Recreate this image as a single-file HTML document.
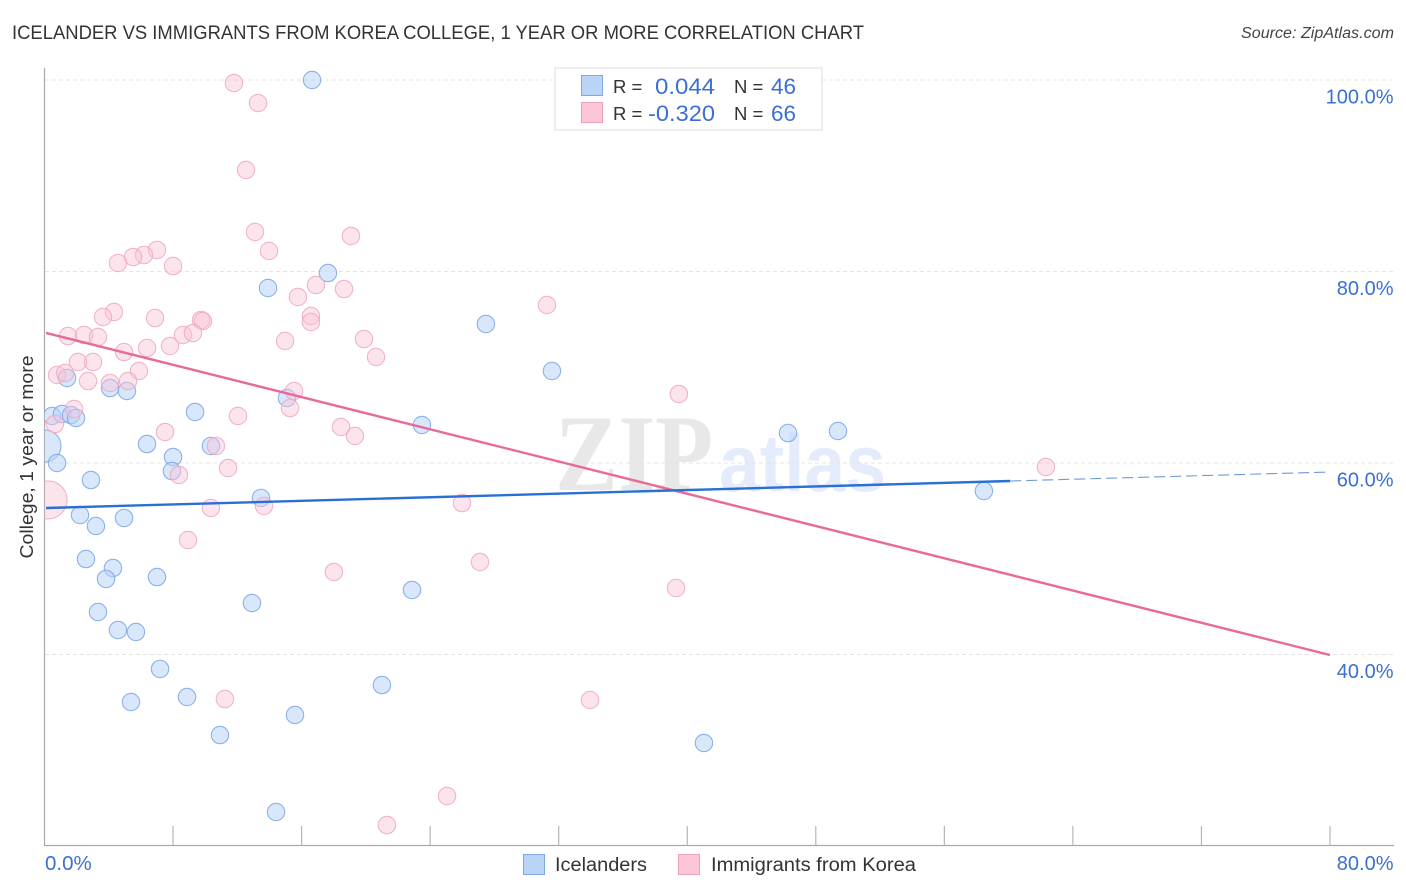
<!DOCTYPE html>
<html lang="en">
<head>
<meta charset="utf-8">
<title>Icelander vs Immigrants from Korea College Correlation Chart</title>
<style>
html,body{margin:0;padding:0;background:#fff;}
body{width:1406px;height:892px;overflow:hidden;}
svg{display:block;font-family:"Liberation Sans",sans-serif;}
</style>
</head>
<body>
<svg id="chart" xmlns="http://www.w3.org/2000/svg" width="1406" height="892" viewBox="0 0 1406 892">
  <defs>
    <clipPath id="plot-clip"><rect x="44.5" y="60" width="1350" height="785"/></clipPath>
  </defs>
  <rect x="0" y="0" width="1406" height="892" fill="#ffffff"/>
  <text x="12" y="39" font-size="19" fill="#333333" textLength="852" lengthAdjust="spacingAndGlyphs">ICELANDER VS IMMIGRANTS FROM KOREA COLLEGE, 1 YEAR OR MORE CORRELATION CHART</text>
  <text x="1241" y="38" font-size="15.5" font-style="italic" fill="#444444" textLength="153" lengthAdjust="spacingAndGlyphs">Source: ZipAtlas.com</text>

  <g>
    <text x="555" y="490" font-family="'Liberation Serif',serif" font-weight="bold" font-size="109" fill="#e8e8e8" textLength="158" lengthAdjust="spacingAndGlyphs">ZIP</text>
    <text x="719" y="491" font-size="81" font-weight="bold" fill="#e4ebfa" textLength="167" lengthAdjust="spacingAndGlyphs">atlas</text>
  </g>

  <g id="grid"></g>
  <g id="axes"></g>
  <g id="pts-blue" clip-path="url(#plot-clip)"></g>
  <g id="pts-pink" clip-path="url(#plot-clip)"></g>
  <g id="trends"></g>
  <g id="ticklabels"></g>

  <text transform="translate(33,457) rotate(-90)" font-size="18.5" fill="#333333" text-anchor="middle" textLength="203" lengthAdjust="spacingAndGlyphs">College, 1 year or more</text>

  <g>
    <rect x="555" y="68" width="267" height="62" fill="#ffffff" fill-opacity="0.9" stroke="#dddddd" stroke-width="1"/>
    <rect x="581.5" y="75.5" width="21" height="20" fill="#b9d4f7" stroke="#7fa9e6"/>
    <rect x="581.5" y="102.5" width="21" height="20" fill="#fcc6d8" stroke="#f0a0bb"/>
    <text x="613" y="93" font-size="18.5" fill="#333333">R =</text>
    <text x="715" y="94" font-size="22" fill="#3b6fd4" text-anchor="end" textLength="60" lengthAdjust="spacingAndGlyphs">0.044</text>
    <text x="734" y="93" font-size="18.5" fill="#333333">N =</text>
    <text x="771" y="94" font-size="22" fill="#3b6fd4" textLength="25" lengthAdjust="spacingAndGlyphs">46</text>
    <text x="613" y="120" font-size="18.5" fill="#333333">R =</text>
    <text x="715" y="121" font-size="22" fill="#3b6fd4" text-anchor="end" textLength="67" lengthAdjust="spacingAndGlyphs">-0.320</text>
    <text x="734" y="120" font-size="18.5" fill="#333333">N =</text>
    <text x="771" y="121" font-size="22" fill="#3b6fd4" textLength="25" lengthAdjust="spacingAndGlyphs">66</text>
  </g>

  <g>
    <rect x="523.5" y="854.5" width="21" height="20" fill="#b9d4f7" stroke="#7fa9e6"/>
    <text x="555" y="871" font-size="19" fill="#333333" textLength="92" lengthAdjust="spacingAndGlyphs">Icelanders</text>
    <rect x="678.5" y="854.5" width="21" height="20" fill="#fcc6d8" stroke="#f0a0bb"/>
    <text x="711" y="871" font-size="19" fill="#333333" textLength="205" lengthAdjust="spacingAndGlyphs">Immigrants from Korea</text>
  </g>
</svg>
<script>
// ---- Chart data (percent units) ----
const xTickValues = [0, 8, 16, 24, 32, 40, 48, 56, 64, 72, 80];
const yGridValues = [100, 80, 60, 40];
const yTickLabels = ['100.0%', '80.0%', '60.0%', '40.0%'];
const xStartLabel = '0.0%';
const xEndLabel = '80.0%';

const icelanderX = [16.65,17.64,13.91,27.47,31.58,1.40,4.08,5.13,9.37,0.47,1.09,1.65,1.96,23.49,46.27,49.38,6.38,10.36,0.03,0.78,8.00,7.93,2.89,13.47,58.46,2.21,4.95,3.20,2.58,4.26,3.83,7.00,22.87,12.91,3.33,4.57,5.69,7.19,21.00,8.87,5.38,15.59,10.92,41.04,14.41,15.09];
const icelanderY = [100,79.84,78.28,74.52,69.61,68.88,67.83,67.52,65.33,64.91,65.12,65.01,64.70,63.97,63.13,63.34,61.98,61.78,61.78,60.00,60.63,59.16,58.22,56.35,57.08,54.57,54.26,53.42,49.97,49.03,47.89,48.09,46.74,45.38,44.44,42.56,42.35,38.49,36.81,35.56,35.04,33.68,31.59,30.76,23.55,66.79];

const koreaX = [11.79,13.29,12.54,13.10,19.07,13.97,7.00,6.19,5.51,4.57,8.00,16.89,18.64,15.77,31.27,4.32,3.64,6.88,9.74,9.86,16.58,16.58,8.62,9.24,1.46,2.46,3.33,14.97,19.88,6.38,7.81,4.95,20.63,3.02,2.08,5.88,0.78,1.28,2.71,4.08,5.20,39.48,15.53,15.28,12.04,1.84,0.65,18.45,19.32,7.50,10.67,11.42,8.37,62.32,0.22,13.66,10.36,25.98,8.93,27.10,18.01,39.30,11.23,33.95,25.05,21.31];
const koreaY = [99.69,97.60,90.60,84.13,83.71,82.14,82.25,81.72,81.51,80.89,80.57,78.59,78.17,77.34,76.50,75.77,75.25,75.14,74.93,74.83,75.35,74.73,73.37,73.58,73.26,73.37,73.16,72.74,72.95,72.01,72.22,71.59,71.07,70.55,70.55,69.61,69.19,69.40,68.56,68.36,68.56,67.21,67.52,65.74,64.91,65.64,64.07,63.76,62.82,63.24,61.78,59.48,58.75,59.58,56.14,55.51,55.30,55.82,51.96,49.66,48.62,46.95,35.35,35.25,25.22,22.19];

const icelanderTrendX = [0.1, 60.1];
const icelanderTrendY = [55.30, 58.12];
const icelanderProjectionX = [60.1, 80];
const icelanderProjectionY = [58.12, 59.06];
const koreaTrendX = [0.1, 80];
const koreaTrendY = [73.58, 39.95];

// ---- Axis functions ----
const SVGNS = 'http://www.w3.org/2000/svg';
function xScale(v) { return 44.5 + v * (1330 - 44.5) / 80; }
function yScale(v) { return 80 + (100 - v) * 9.575; }
function mk(tag, attrs, parent) {
  const el = document.createElementNS(SVGNS, tag);
  for (const k in attrs) el.setAttribute(k, attrs[k]);
  parent.appendChild(el);
  return el;
}

// Gridlines
const gridG = document.getElementById('grid');
yGridValues.forEach(function (v) {
  const line = mk('line', {x1: 45, x2: 1394, y1: yScale(v), y2: yScale(v), stroke: '#e4e4e4', 'stroke-width': 1, 'stroke-dasharray': '4 3'}, gridG);
  
  
});

// Axes and ticks
const axesG = document.getElementById('axes');
const yAxisLine = mk('line', {x1: 44.5, x2: 44.5, y1: 68, y2: 846, stroke: '#aaaaaa', 'stroke-width': 1.2}, axesG);


const xAxisLine = mk('line', {x1: 44, x2: 1394, y1: 845.5, y2: 845.5, stroke: '#aaaaaa', 'stroke-width': 1.2}, axesG);


xTickValues.slice(1).forEach(function (v) {
  const tick = mk('line', {x1: xScale(v), x2: xScale(v), y1: 826, y2: 845, stroke: '#b5b5b5', 'stroke-width': 1.2}, axesG);
  
  
});

// Tick labels
const labelG = document.getElementById('ticklabels');
const TICK_COLOR = '#3b6fd4';
yGridValues.forEach(function (v, i) {
  const t = mk('text', {x: 1393.5, y: yScale(v) + 23.5, 'font-size': 20, fill: TICK_COLOR, 'text-anchor': 'end'}, labelG);
  
  
  t.textContent = yTickLabels[i];
});
const xStart = mk('text', {x: 45, y: 870, 'font-size': 20.5, fill: TICK_COLOR}, labelG);


xStart.textContent = xStartLabel;
const xEnd = mk('text', {x: 1393.5, y: 870, 'font-size': 20, fill: TICK_COLOR, 'text-anchor': 'end'}, labelG);


xEnd.textContent = xEndLabel;

// Points
function radiusFor(series, i) {
  if (series === 'blue' && i === 18) return 16;
  if (series === 'pink' && i === 54) return 19;
  return 8.7;
}
const blueG = document.getElementById('pts-blue');
icelanderX.forEach(function (x, i) {
  const c = mk('circle', {cx: xScale(x), cy: yScale(icelanderY[i]), r: radiusFor('blue', i), fill: '#b9d4f7', 'fill-opacity': 0.55, stroke: '#7ba6e6', 'stroke-opacity': 0.85, 'stroke-width': 1.1}, blueG);
  
  
});
const pinkG = document.getElementById('pts-pink');
koreaX.forEach(function (x, i) {
  const c = mk('circle', {cx: xScale(x), cy: yScale(koreaY[i]), r: radiusFor('pink', i), fill: '#f9c4d6', 'fill-opacity': 0.45, stroke: '#f0a8c0', 'stroke-opacity': 0.85, 'stroke-width': 1.1}, pinkG);
  
  
});

// Trend lines
const trendG = document.getElementById('trends');
const koreaLine = mk('line', {x1: xScale(koreaTrendX[0]), y1: yScale(koreaTrendY[0]), x2: xScale(koreaTrendX[1]), y2: yScale(koreaTrendY[1]), stroke: '#e8699a', 'stroke-width': 2.4}, trendG);


const blueLine = mk('line', {x1: xScale(icelanderTrendX[0]), y1: yScale(icelanderTrendY[0]), x2: xScale(icelanderTrendX[1]), y2: yScale(icelanderTrendY[1]), stroke: '#2a6fd6', 'stroke-width': 2.4}, trendG);


const blueDash = mk('line', {x1: xScale(icelanderProjectionX[0]), y1: yScale(icelanderProjectionY[0]), x2: xScale(icelanderProjectionX[1]), y2: yScale(icelanderProjectionY[1]), stroke: '#7099d6', 'stroke-width': 1.1, 'stroke-dasharray': '11 5'}, trendG);


</script>
</body>
</html>
